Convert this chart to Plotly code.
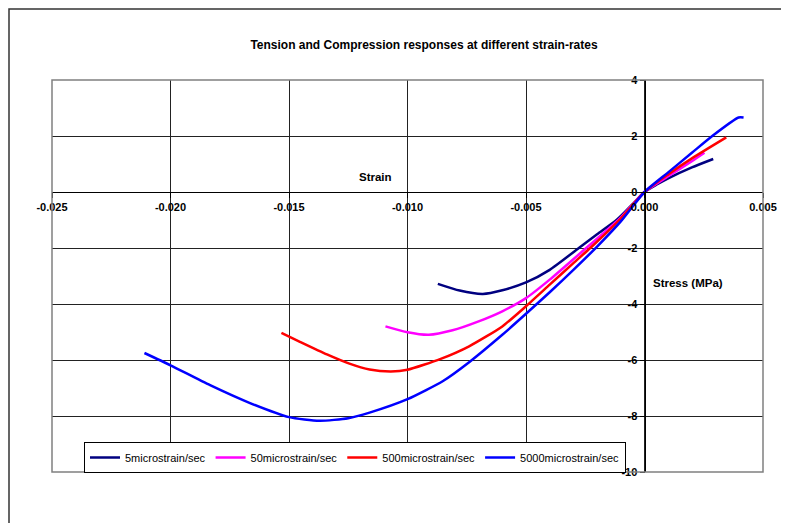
import plotly.graph_objects as go

# ---- data ----
series_names = ["5microstrain/sec", "50microstrain/sec", "500microstrain/sec", "5000microstrain/sec"]
series_colors = ["#000080", "#FF00FF", "#FF0000", "#0000FF"]

strain_5 = [-0.00872, -0.0078, -0.00682, -0.0060, -0.0050, -0.0040, -0.00277, -0.0020, -0.00118, -0.0005, 0.0, 0.0005, 0.0010, 0.0020, 0.0029]
stress_5 = [-3.28, -3.52, -3.64, -3.51, -3.23, -2.78, -2.00, -1.51, -1.00, -0.43, 0.0, 0.26, 0.49, 0.88, 1.18]

strain_50 = [-0.01093, -0.0100, -0.0091, -0.0081, -0.0070, -0.0060, -0.0050, -0.0040, -0.00246, -0.0011, 0.0, 0.0010, 0.0020, 0.00253]
stress_50 = [-4.80, -5.01, -5.10, -4.94, -4.62, -4.26, -3.79, -3.13, -2.00, -1.00, 0.0, 0.56, 1.10, 1.40]

strain_500 = [-0.01532, -0.01456, -0.01340, -0.01245, -0.01160, -0.01070, -0.0100, -0.0086, -0.0074, -0.0060, -0.0050, -0.0040, -0.0030, -0.00229, -0.0010, 0.0, 0.0010, 0.0020, 0.00345]
stress_500 = [-5.03, -5.34, -5.80, -6.13, -6.34, -6.41, -6.35, -5.96, -5.51, -4.80, -4.08, -3.31, -2.54, -2.00, -0.95, 0.0, 0.63, 1.20, 1.95]

strain_5000 = [-0.0211, -0.0200, -0.01833, -0.01667, -0.0150, -0.01371, -0.0125, -0.0116, -0.0100, -0.0085, -0.0074, -0.0060, -0.0050, -0.0040, -0.0030, -0.0020, -0.0010, 0.0, 0.0010, 0.0020, 0.00286, 0.00397, 0.00418]
stress_5000 = [-5.75, -6.19, -6.90, -7.53, -8.04, -8.17, -8.08, -7.88, -7.40, -6.75, -6.08, -5.10, -4.35, -3.58, -2.78, -1.95, -1.05, 0.0, 0.70, 1.40, 2.00, 2.66, 2.66]

x_tick_vals = [-0.025, -0.020, -0.015, -0.010, -0.005, 0.000, 0.005]
x_tick_text = ["-0.025", "-0.020", "-0.015", "-0.010", "-0.005", "0.000", "0.005"]
y_tick_vals = [-10, -8, -6, -4, -2, 0, 2, 4]
y_tick_text = ["-10", "-8", "-6", "-4", "-2", "0", "2", "4"]

title_text = "Tension and Compression responses at different strain-rates"
x_title = "Strain"
y_title = "Stress (MPa)"

all_strain = [strain_5, strain_50, strain_500, strain_5000]
all_stress = [stress_5, stress_50, stress_500, stress_5000]

FONT = "Liberation Sans, Arial, sans-serif"

# the page body has an 8px default margin; compensate so the plot lands where the reference has it
OFF = 8
W, H = 789 - OFF, 523 - OFF
PL, PT, PR, PB = 52, 80, 763, 472   # plot area in window pixels
PW, PH = PR - PL, PB - PT

fig = go.Figure()
for name, col, xs, ys in zip(series_names, series_colors, all_strain, all_stress):
    fig.add_trace(go.Scatter(
        x=xs, y=ys, mode="lines", name=name,
        line=dict(color=col, width=2.5, shape="spline", smoothing=0.6),
    ))

xr = [x_tick_vals[0], x_tick_vals[-1]]
yr = [y_tick_vals[0], y_tick_vals[-1]]

def px_x(v):
    return (v - PL) / PW

def px_y(v):
    return (PB - v) / PH

fig.update_layout(
    width=W, height=H,
    margin=dict(l=PL - OFF, r=789 - PR, t=PT - OFF, b=523 - PB, autoexpand=False),
    paper_bgcolor="white", plot_bgcolor="white",
    font=dict(family=FONT, size=11, color="black"),
    title=dict(text="<b>" + title_text + "</b>", x=(424 - OFF) / W, xanchor="center",
               y=1 - (45 - OFF) / H, yanchor="middle",
               font=dict(family=FONT, size=12, color="black")),
    showlegend=True,
    legend=dict(orientation="h", x=px_x(84), y=px_y(442),
                xanchor="left", yanchor="top",
                bordercolor="black", borderwidth=1, bgcolor="white",
                font=dict(family=FONT, size=11, color="black"),
                itemwidth=30, tracegroupgap=0),
    xaxis=dict(range=xr, tickvals=x_tick_vals, ticktext=x_tick_text,
               showgrid=True, gridcolor="#222222", gridwidth=1,
               zeroline=False, showline=True, linecolor="black", linewidth=1,
               ticks="outside", ticklen=5, tickcolor="black", automargin=False,
               anchor="free", position=(0 - yr[0]) / (yr[1] - yr[0]),
               tickfont=dict(family=FONT, size=11, color="black", weight="bold")),
    yaxis=dict(range=yr, tickvals=y_tick_vals, ticktext=y_tick_text,
               showgrid=True, gridcolor="#222222", gridwidth=1,
               zeroline=False, showline=True, linecolor="black", linewidth=1,
               ticks="outside", ticklen=5, tickcolor="black", automargin=False,
               anchor="free", position=(0 - xr[0]) / (xr[1] - xr[0]),
               tickfont=dict(family=FONT, size=11, color="black", weight="bold")),
    shapes=[
        dict(type="rect", xref="paper", yref="paper", x0=0, x1=1, y0=0, y1=1,
             line=dict(color="#808080", width=1.5), layer="above"),
        dict(type="rect", xref="paper", yref="paper",
             x0=px_x(OFF + 1), x1=1.2, y0=-0.3, y1=px_y(OFF + 1),
             line=dict(color="#333333", width=1.5), layer="above"),
    ],
    annotations=[
        dict(text="<b>" + x_title + "</b>", xref="paper", yref="paper",
             x=px_x(375), y=px_y(177), showarrow=False,
             xanchor="center", yanchor="middle", font=dict(family=FONT, size=11.5)),
        dict(text="<b>" + y_title + "</b>", xref="paper", yref="paper",
             x=px_x(688), y=px_y(283), showarrow=False,
             xanchor="center", yanchor="middle", font=dict(family=FONT, size=11.5)),
    ],
)

fig.write_html("out.html")
